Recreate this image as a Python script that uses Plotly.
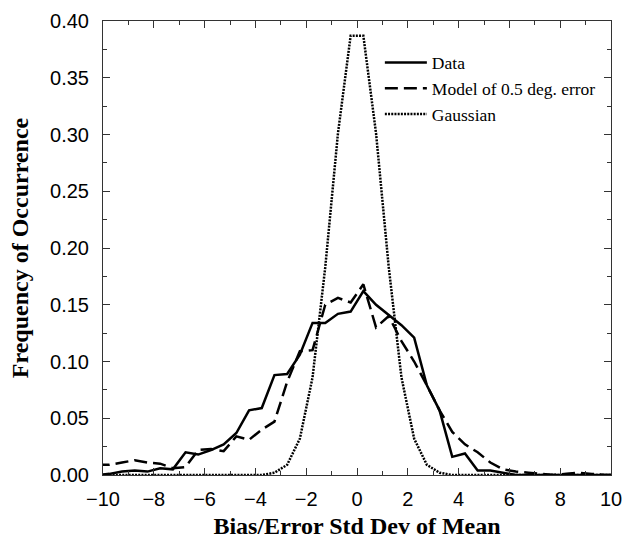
import plotly.graph_objects as go

# bin centres (Bias / Error Std Dev of Mean)
x_bins = [-10.25, -9.75, -9.25, -8.75, -8.25, -7.75, -7.25, -6.75, -6.25, -5.75,
          -5.25, -4.75, -4.25, -3.75, -3.25, -2.75, -2.25, -1.75, -1.25, -0.75,
          -0.25, 0.25, 0.75, 1.25, 1.75, 2.25, 2.75, 3.25, 3.75, 4.25,
          4.75, 5.25, 5.75, 6.25, 6.75, 7.25, 7.75, 8.25, 8.75, 9.25,
          9.75, 10.25]

data_freq = [0.000, 0.001, 0.003, 0.004, 0.003, 0.006, 0.005, 0.020, 0.018, 0.022,
             0.027, 0.037, 0.057, 0.059, 0.088, 0.089, 0.106, 0.134, 0.134, 0.142,
             0.144, 0.162, 0.150, 0.141, 0.132, 0.121, 0.079, 0.057, 0.016, 0.019,
             0.004, 0.004, 0.002, 0.000, 0.000, 0.000, 0.000, 0.000, 0.000, 0.000,
             0.000, 0.000]

model_freq = [0.009, 0.009, 0.011, 0.013, 0.011, 0.010, 0.006, 0.007, 0.022, 0.023,
              0.021, 0.034, 0.031, 0.040, 0.047, 0.082, 0.109, 0.110, 0.150, 0.156,
              0.152, 0.168, 0.130, 0.140, 0.118, 0.100, 0.079, 0.057, 0.038, 0.027,
              0.020, 0.011, 0.005, 0.003, 0.002, 0.001, 0.000, 0.001, 0.002, 0.001,
              0.000, 0.000]

gauss_freq = [0.000, 0.000, 0.000, 0.000, 0.000, 0.000, 0.000, 0.000, 0.000, 0.000,
              0.000, 0.000, 0.000, 0.000, 0.002, 0.009, 0.032, 0.086, 0.183, 0.301,
              0.387, 0.387, 0.301, 0.183, 0.086, 0.032, 0.009, 0.002, 0.000, 0.000,
              0.000, 0.000, 0.000, 0.000, 0.000, 0.000, 0.000, 0.000, 0.000, 0.000,
              0.000, 0.000]

names = ["Data", "Model of 0.5 deg. error", "Gaussian"]
x_ticks = [-10, -8, -6, -4, -2, 0, 2, 4, 6, 8, 10]
y_ticks = [0.00, 0.05, 0.10, 0.15, 0.20, 0.25, 0.30, 0.35, 0.40]

fig = go.Figure()
fig.add_trace(go.Scatter(x=x_bins, y=data_freq, name=names[0], mode="lines",
                         line=dict(color="black", width=2.5)))
fig.add_trace(go.Scatter(x=x_bins, y=model_freq, name=names[1], mode="lines",
                         line=dict(color="black", width=2.5, dash="13px,6px")))
fig.add_trace(go.Scatter(x=x_bins, y=gauss_freq, name=names[2], mode="lines",
                         line=dict(color="black", width=2.5, dash="2px,1.2px")))

axis_common = dict(
    showgrid=False, zeroline=False, showline=True, linecolor="#333", linewidth=1,
    mirror="allticks", ticks="inside", ticklen=7, tickwidth=1, tickcolor="#333",
    tickfont=dict(family="Liberation Sans, Arial, sans-serif", size=20, color="black"),
)
title_font = dict(family="Liberation Serif, Times New Roman, serif", size=24, color="black")

fig.update_layout(
    width=632, height=545,
    margin=dict(l=103, r=21, t=10, b=65),
    paper_bgcolor="white", plot_bgcolor="white",
    showlegend=True,
    legend=dict(x=0.545, y=0.948, xanchor="left", yanchor="top",
                bgcolor="rgba(0,0,0,0)", borderwidth=0,
                font=dict(family="Liberation Serif, Times New Roman, serif", size=17.5, color="black"),
                tracegroupgap=0, itemwidth=42),
    xaxis=dict(range=[-10, 10], tickvals=x_ticks,
               minor=dict(dtick=1, ticks="inside", ticklen=4, tickcolor="#333", showgrid=False),
               ticklabelstandoff=6,
               title=dict(text="<b>Bias/Error Std Dev of Mean</b>", standoff=8, font=title_font),
               **axis_common),
    yaxis=dict(range=[0, 0.4], tickvals=y_ticks, tickformat=".2f",
               minor=dict(dtick=0.025, ticks="inside", ticklen=4, tickcolor="#333", showgrid=False),
               ticklabelstandoff=9,
               title=dict(text="<b>Frequency of Occurrence</b>", standoff=14, font=title_font),
               **axis_common),
)

fig.write_html("out.html")
